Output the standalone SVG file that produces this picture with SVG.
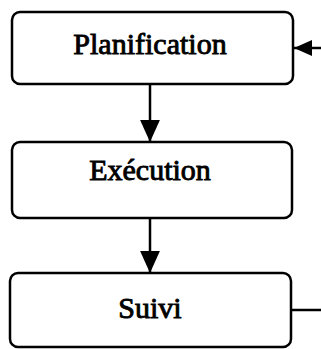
<svg xmlns="http://www.w3.org/2000/svg" width="321" height="349" viewBox="0 0 321 349">
<defs>
<style>
.box{fill:#fff;stroke:#000;stroke-width:2.5}
.lbl{font-family:"Liberation Serif","Times New Roman",serif;font-size:30px;fill:#000;text-anchor:middle;stroke:#000;stroke-width:0.9}
.ln{stroke:#000;stroke-width:2.5;fill:none}
</style>
<marker id="ahv" viewBox="0 0 10 10" refX="10" refY="5" markerWidth="22" markerHeight="22" markerUnits="userSpaceOnUse" orient="auto">
<path d="M0,0.5 L10,5 L0,9.5 z" fill="#000"/>
</marker>
<marker id="ahh" viewBox="0 0 10 10" refX="10" refY="5" markerWidth="18" markerHeight="16" markerUnits="userSpaceOnUse" orient="auto" preserveAspectRatio="none">
<path d="M0,0 L10,5 L0,10 z" fill="#000"/>
</marker>
</defs>
<g id="connectors">
<line class="ln" x1="150" y1="85" x2="150" y2="142" marker-end="url(#ahv)"/>
<line class="ln" x1="150" y1="218" x2="150" y2="273" marker-end="url(#ahv)"/>
<polyline class="ln" points="292,310 321,310"/>
<line class="ln" x1="321" y1="48" x2="294" y2="48" marker-end="url(#ahh)"/>
</g>
<g id="planification">
<rect class="box" x="12" y="12" width="281" height="72" rx="8"/>
<text class="lbl" x="150" y="54">Planification</text>
</g>
<g id="execution">
<rect class="box" x="12" y="142" width="280" height="76" rx="8"/>
<text class="lbl" x="150" y="180">Exécution</text>
</g>
<g id="suivi">
<rect class="box" x="10" y="273" width="281" height="74" rx="8"/>
<text class="lbl" x="150" y="318">Suivi</text>
</g>
</svg>
